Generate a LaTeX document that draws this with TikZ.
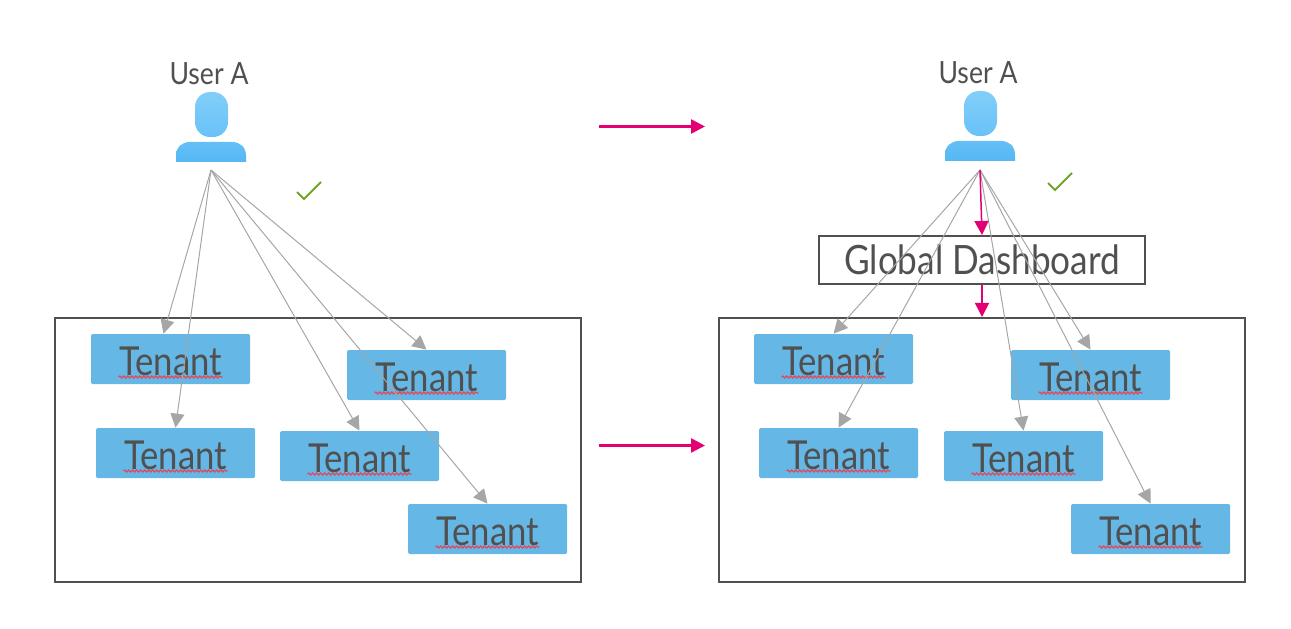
\documentclass[tikz,border=0pt]{standalone}
\usepackage{fontspec}
\setmainfont{Lato}[FakeStretch=0.87]
\usepackage{xcolor}
\usetikzlibrary{arrows.meta,decorations.pathmorphing}
\definecolor{textgray}{HTML}{505050}
\definecolor{linegray}{HTML}{A6A6A6}
\definecolor{tenantblue}{HTML}{65B7E5}
\definecolor{magentaline}{HTML}{E20074}
\definecolor{checkgreen}{HTML}{6FA52F}
\definecolor{spellred}{HTML}{E2475A}
\definecolor{headtop}{HTML}{82CEF9}
\definecolor{headbot}{HTML}{68C2F7}
\definecolor{bodytop}{HTML}{64BFF6}
\definecolor{bodybot}{HTML}{56B7F4}
\tikzset{
	tenantbox/.style={fill=tenantblue,text=textgray,rounded corners=0.3mm,minimum width=31.8mm,minimum height=10mm,inner sep=0pt,text height=6.4mm,text depth=0pt,font=\fontsize{22.7}{23}\selectfont},
	framebox/.style={draw=textgray,line width=0.4mm},
	userlabel/.style={text=textgray,inner sep=0pt,font=\fontsize{17.4}{18}\selectfont},
	grayarrow/.style={draw=linegray,line width=0.2mm,-{Triangle[length=2.8mm,width=2.8mm]}},
	pinkarrow/.style={draw=magentaline,line width=0.3mm,-{Triangle[length=2.8mm,width=2.8mm]}},
	checkmark/.style={draw=checkgreen,line width=0.4mm},
	spellline/.style={draw=spellred,line width=0.22mm,decorate,decoration={snake,amplitude=0.2mm,segment length=0.8mm}},
	headshape/.style={rounded corners=3mm,top color=headtop,bottom color=headbot,draw=none},
	bodyshape/.style={top color=bodytop,bottom color=bodybot,draw=none}
}
\newcommand{\squiggle}[1]{\draw[spellline] ([shift={(-52,18)}]#1.center) -- ([shift={(52,18)}]#1.center);}
\begin{document}
\begin{tikzpicture}[x=0.2mm,y=-0.2mm]
	\useasboundingbox (0,0) rectangle (1291,629);
	%frames
	\node[framebox,minimum width=105.2mm,minimum height=52.8mm,inner sep=0pt] (frameL) at (318,450) {};
	\node[framebox,minimum width=105.2mm,minimum height=52.8mm,inner sep=0pt] (frameR) at (982,450) {};
	
	%left person
	\node[userlabel] (labelL) at (209,74) {User A};
	\shade[headshape] (195,92) rectangle (228,137);
	\shade[bodyshape] (176,162) -- (176,156) .. controls (176,147) and (182,142) .. (190,142) -- (232,142) .. controls (240,142) and (246,147) .. (246,156) -- (246,162) -- cycle;
	\coordinate (apexL) at (211,170);
	\draw[checkmark] (297,192) -- (304,199) -- (321,182);
	
	%right person
	\node[userlabel] (labelR) at (978,73) {User A};
	\shade[headshape] (964,91) rectangle (997,136);
	\shade[bodyshape] (945,161) -- (945,155) .. controls (945,146) and (951,141) .. (959,141) -- (1001,141) .. controls (1009,141) and (1015,146) .. (1015,155) -- (1015,161) -- cycle;
	\coordinate (apexR) at (980,170);
	\draw[checkmark] (1048,183) -- (1055,190) -- (1072,173);
	
	%tenants left
	\node[tenantbox] (tenantLa) at (170.5,359) {Tenant};
	\node[tenantbox] (tenantLb) at (175.5,453) {Tenant};
	\node[tenantbox] (tenantLc) at (426.5,375) {Tenant};
	\node[tenantbox] (tenantLd) at (359.5,456) {Tenant};
	\node[tenantbox] (tenantLe) at (487.5,529) {Tenant};
	
	%tenants right
	\node[tenantbox] (tenantRa) at (833.5,359) {Tenant};
	\node[tenantbox] (tenantRb) at (838.5,453) {Tenant};
	\node[tenantbox] (tenantRc) at (1090.5,375) {Tenant};
	\node[tenantbox] (tenantRd) at (1023.5,456) {Tenant};
	\node[tenantbox] (tenantRe) at (1150.5,529) {Tenant};
	
	%spelling marks
	\squiggle{tenantLa}\squiggle{tenantLb}\squiggle{tenantLc}\squiggle{tenantLd}\squiggle{tenantLe}
	\squiggle{tenantRa}\squiggle{tenantRb}\squiggle{tenantRc}\squiggle{tenantRd}\squiggle{tenantRe}
	
	%dashboard
	\node[framebox,text=textgray,minimum width=65.2mm,minimum height=9.6mm,inner sep=0pt,text height=6mm,text depth=0pt,font=\fontsize{23}{23}\selectfont] (dashboard) at (982,260) {Global Dashboard};
	
	%gray arrows
	\draw[grayarrow] (apexL) -- ([xshift=-1.4mm]tenantLa.north);	%user--tenant
	\draw[grayarrow] (apexL) -- (tenantLb.north);
	\draw[grayarrow] (apexL) -- (tenantLc.north);
	\draw[grayarrow] (apexL) -- (tenantLd.north);
	\draw[grayarrow] (apexL) -- (tenantLe.north);
	%
	\draw[grayarrow] (apexR) -- (tenantRa.north);
	\draw[grayarrow] (apexR) -- (tenantRb.north);
	\draw[grayarrow] (apexR) -- (tenantRc.north);
	\draw[grayarrow] (apexR) -- (tenantRd.north);
	\draw[grayarrow] (apexR) -- (tenantRe.north);
	
	%pink arrows
	\draw[pinkarrow] (apexR) -- (dashboard.north);
	\draw[pinkarrow] (dashboard.south) -- (dashboard.south |- frameR.north);
	\coordinate (topstart) at (599,126.5);
	\coordinate (topend) at (705,126.5);
	\coordinate (lowstart) at (599,445.5);
	\coordinate (lowend) at (705,445.5);
	\draw[pinkarrow,line width=0.5mm] (topstart) -- (topend);
	\draw[pinkarrow,line width=0.5mm] (lowstart) -- (lowend);
\end{tikzpicture}
\end{document}
